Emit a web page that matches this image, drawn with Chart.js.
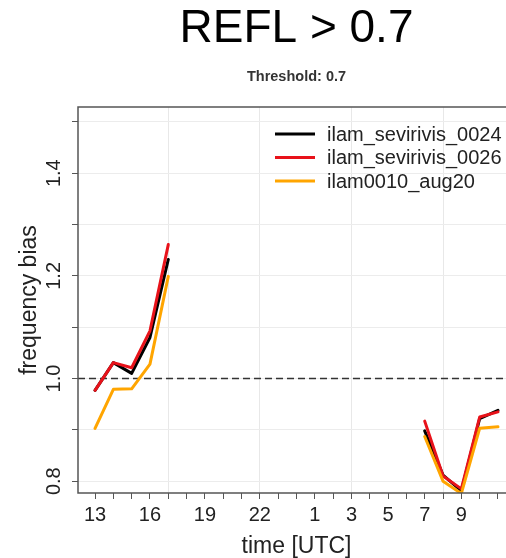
<!DOCTYPE html>
<html>
<head>
<meta charset="utf-8">
<title>REFL > 0.7</title>
<script src="https://cdn.jsdelivr.net/npm/chart.js@4/dist/chart.umd.min.js"></script>
<style>
  html, body { margin: 0; padding: 0; background: #fff; overflow: hidden; }
  #wrap { width: 540px; height: 558px; }
</style>
</head>
<body>
<div id="wrap"><canvas id="chart" width="540" height="558"></canvas></div>
<script>
// hours of the run, 13 UTC to 11 UTC next day
const hours = [13, 14, 15, 16, 17, 18, 19, 20, 21, 22, 23, 0, 1, 2, 3, 4, 5, 6, 7, 8, 9, 10, 11]
const shownHours = [13, 16, 19, 22, 1, 3, 5, 7, 9]
const gridHours = [17, 22, 3, 8]

const yTicks = [0.8, 0.9, 1.0, 1.1, 1.2, 1.3, 1.4, 1.5]
const yTickLabels = [0.8, 1.0, 1.2, 1.4]
const refLine = 1.0

const sevirivis0024 = [0.977, 1.031, 1.01, 1.08, 1.232,
  null, null, null, null, null, null, null, null, null, null, null, null, null,
  0.898, 0.812, 0.781, 0.922, 0.938]
const sevirivis0026 = [0.977, 1.031, 1.021, 1.093, 1.261,
  null, null, null, null, null, null, null, null, null, null, null, null, null,
  0.917, 0.81, 0.785, 0.925, 0.935]
const aug20 = [0.903, 0.979, 0.98, 1.028, 1.199,
  null, null, null, null, null, null, null, null, null, null, null, null, null,
  0.887, 0.8, 0.776, 0.903, 0.906]

const FONT = '"Liberation Sans", Arial, Helvetica, sans-serif'
const TEXT = '#222'

Chart.defaults.font.family = FONT
Chart.defaults.color = TEXT

function series(values) {
  return values.map((v, i) => ({ x: i, y: v }))
}

// box around the plotting region
const frame = {
  id: 'frame',
  afterDatasetsDraw(chart) {
    const { ctx, chartArea: a } = chart
    ctx.save()
    ctx.strokeStyle = '#555'
    ctx.lineWidth = 1.5
    ctx.strokeRect(a.left, a.top, a.right - a.left, a.bottom - a.top)
    ctx.restore()
  }
}

// dashed line at bias = 1
const refLinePlugin = {
  id: 'refLine',
  beforeDatasetsDraw(chart) {
    const { ctx, chartArea: a, scales } = chart
    const y = scales.y.getPixelForValue(refLine)
    ctx.save()
    ctx.strokeStyle = '#333'
    ctx.lineWidth = 1.4
    ctx.setLineDash([7, 4])
    ctx.beginPath()
    ctx.moveTo(a.left, y)
    ctx.lineTo(a.right, y)
    ctx.stroke()
    ctx.restore()
  }
}

// rotated y tick labels
const yLabels = {
  id: 'yLabels',
  afterDraw(chart) {
    const { ctx, scales } = chart
    ctx.save()
    ctx.font = '20px ' + FONT
    ctx.fillStyle = TEXT
    ctx.textAlign = 'center'
    ctx.textBaseline = 'middle'
    yTickLabels.forEach((v) => {
      const y = scales.y.getPixelForValue(v)
      ctx.save()
      ctx.translate(54, y)
      ctx.rotate(-Math.PI / 2)
      ctx.fillText(v.toFixed(1), 0, 0)
      ctx.restore()
    })
    ctx.restore()
  }
}

// legend in the top right corner of the plot
const insideLegend = {
  id: 'insideLegend',
  afterDraw(chart) {
    const { ctx, chartArea: a } = chart
    ctx.save()
    ctx.font = '20px ' + FONT
    ctx.textBaseline = 'middle'
    chart.data.datasets.forEach((ds, i) => {
      const y = a.top + 27 + i * 23.5
      ctx.strokeStyle = ds.borderColor
      ctx.lineWidth = 3
      ctx.beginPath()
      ctx.moveTo(a.right - 240, y)
      ctx.lineTo(a.right - 200, y)
      ctx.stroke()
      ctx.fillStyle = TEXT
      ctx.fillText(ds.label, a.right - 188, y + 1)
    })
    ctx.restore()
  }
}

const lineStyle = {
  borderWidth: 3,
  pointRadius: 0,
  tension: 0,
  spanGaps: false,
  borderJoinStyle: 'round',
  borderCapStyle: 'round',
}

new Chart(document.getElementById('chart'), {
  type: 'line',
  data: {
    datasets: [
      { label: 'ilam_sevirivis_0024', data: series(sevirivis0024), borderColor: '#000000', order: 3, ...lineStyle },
      { label: 'ilam_sevirivis_0026', data: series(sevirivis0026), borderColor: '#e8121a', order: 2, ...lineStyle },
      { label: 'ilam0010_aug20', data: series(aug20), borderColor: '#ffa500', order: 1, ...lineStyle },
    ],
  },
  options: {
    responsive: false,
    animation: false,
    layout: {
      padding: { top: 0, left: 0, bottom: 0, right: 25 },
    },
    plugins: {
      legend: { display: false },
      tooltip: { enabled: false },
      title: {
        display: true,
        text: 'REFL > 0.7',
        fullSize: false,
        color: '#000',
        font: { size: 46, weight: 'normal', lineHeight: 1 },
        padding: { top: 6, bottom: 9 },
      },
      subtitle: {
        display: true,
        text: 'Threshold: 0.7',
        fullSize: false,
        color: '#333',
        font: { size: 14.5, weight: 'bold', lineHeight: 1 },
        padding: { top: 9, bottom: 22.5 },
      },
    },
    scales: {
      x: {
        type: 'linear',
        min: -0.93,
        max: 22.93,
        afterBuildTicks: (scale) => { scale.ticks = hours.map((h, i) => ({ value: i })) },
        afterFit: (scale) => { scale.height = 65 },
        ticks: {
          autoSkip: false,
          maxRotation: 0,
          padding: 4,
          font: { size: 20 },
          color: TEXT,
          callback: (value) => shownHours.includes(hours[value]) ? String(hours[value]) : '',
        },
        grid: {
          color: (ctx) => ctx.tick && gridHours.includes(hours[ctx.tick.value]) ? '#e8e8e8' : 'rgba(0,0,0,0)',
          tickColor: '#555',
          tickLength: 6,
        },
        border: { display: false },
        title: {
          display: true,
          text: 'time [UTC]',
          color: TEXT,
          font: { size: 23, lineHeight: 1 },
          padding: { top: 0, bottom: 0 },
        },
      },
      y: {
        min: 0.777,
        max: 1.529,
        afterBuildTicks: (scale) => { scale.ticks = yTicks.map((v) => ({ value: v })) },
        afterFit: (scale) => { scale.width = 78 },
        ticks: { display: false },
        grid: {
          color: '#ececec',
          tickColor: '#555',
          tickLength: 6,
        },
        border: { display: false },
        title: {
          display: true,
          text: 'frequency bias',
          color: TEXT,
          font: { size: 23, lineHeight: 1 },
          padding: { top: 18, bottom: 0 },
        },
      },
    },
  },
  plugins: [refLinePlugin, frame, yLabels, insideLegend],
})
</script>
</body>
</html>
